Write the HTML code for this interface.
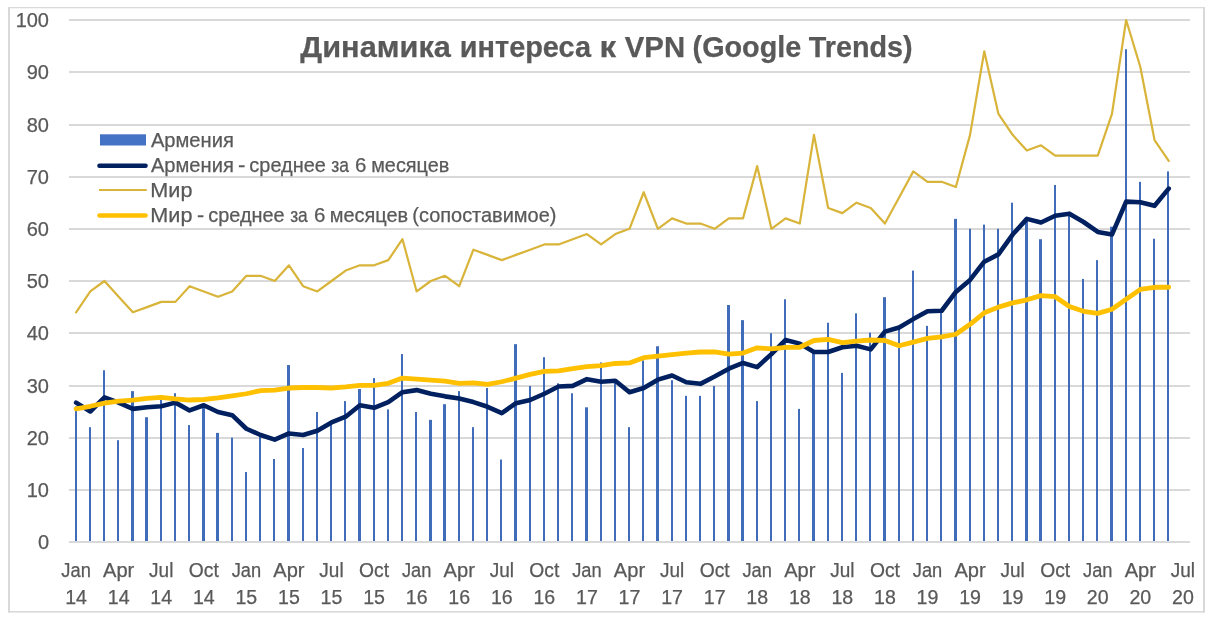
<!DOCTYPE html><html><head><meta charset="utf-8"><style>html,body{margin:0;padding:0;background:#fff;}svg{display:block;will-change:transform;}text{font-family:"Liberation Sans",sans-serif;fill:#595959;stroke:#595959;stroke-width:0.25px;}</style></head><body>
<svg width="1210" height="619" viewBox="0 0 1210 619">
<rect x="8" y="7" width="2" height="605.5" fill="#d9d9d9"/>
<rect x="1203" y="7" width="2" height="605.5" fill="#d9d9d9"/>
<rect x="8" y="7" width="1197" height="1.3" fill="#d9d9d9"/>
<rect x="8" y="611" width="1197" height="1.6" fill="#d9d9d9"/>
<rect x="69.0" y="541" width="1121.0" height="2" fill="#d9d9d9"/>
<rect x="69.0" y="489" width="1121.0" height="2" fill="#d9d9d9"/>
<rect x="69.0" y="437" width="1121.0" height="2" fill="#d9d9d9"/>
<rect x="69.0" y="385" width="1121.0" height="2" fill="#d9d9d9"/>
<rect x="69.0" y="332" width="1121.0" height="2" fill="#d9d9d9"/>
<rect x="69.0" y="280" width="1121.0" height="2" fill="#d9d9d9"/>
<rect x="69.0" y="228" width="1121.0" height="2" fill="#d9d9d9"/>
<rect x="69.0" y="176" width="1121.0" height="2" fill="#d9d9d9"/>
<rect x="69.0" y="124" width="1121.0" height="2" fill="#d9d9d9"/>
<rect x="69.0" y="71" width="1121.0" height="2" fill="#d9d9d9"/>
<rect x="69.0" y="19" width="1121.0" height="2" fill="#d9d9d9"/>
<rect x="75" y="406.28" width="2" height="134.72" fill="#416cb9"/>
<rect x="89" y="427.16" width="2" height="113.84" fill="#416cb9"/>
<rect x="103" y="370.26" width="2" height="170.74" fill="#416cb9"/>
<rect x="117" y="440.21" width="2" height="100.79" fill="#416cb9"/>
<rect x="131" y="391.14" width="3" height="149.86" fill="#416cb9"/>
<rect x="145" y="417.24" width="3" height="123.76" fill="#416cb9"/>
<rect x="160" y="398.45" width="2" height="142.55" fill="#416cb9"/>
<rect x="174" y="393.23" width="2" height="147.77" fill="#416cb9"/>
<rect x="188" y="425.07" width="2" height="115.93" fill="#416cb9"/>
<rect x="202" y="406.28" width="3" height="134.72" fill="#416cb9"/>
<rect x="216" y="432.90" width="3" height="108.10" fill="#416cb9"/>
<rect x="231" y="437.60" width="2" height="103.40" fill="#416cb9"/>
<rect x="245" y="472.05" width="2" height="68.95" fill="#416cb9"/>
<rect x="259" y="434.99" width="2" height="106.01" fill="#416cb9"/>
<rect x="273" y="459.00" width="2" height="82.00" fill="#416cb9"/>
<rect x="287" y="365.04" width="3" height="175.96" fill="#416cb9"/>
<rect x="302" y="448.04" width="2" height="92.96" fill="#416cb9"/>
<rect x="316" y="412.02" width="2" height="128.98" fill="#416cb9"/>
<rect x="330" y="424.55" width="2" height="116.45" fill="#416cb9"/>
<rect x="344" y="401.06" width="2" height="139.94" fill="#416cb9"/>
<rect x="358" y="389.05" width="3" height="151.95" fill="#416cb9"/>
<rect x="373" y="378.09" width="2" height="162.91" fill="#416cb9"/>
<rect x="387" y="409.41" width="2" height="131.59" fill="#416cb9"/>
<rect x="401" y="354.08" width="2" height="186.92" fill="#416cb9"/>
<rect x="415" y="412.02" width="2" height="128.98" fill="#416cb9"/>
<rect x="429" y="419.85" width="3" height="121.15" fill="#416cb9"/>
<rect x="443" y="404.19" width="3" height="136.81" fill="#416cb9"/>
<rect x="458" y="391.14" width="2" height="149.86" fill="#416cb9"/>
<rect x="472" y="427.16" width="2" height="113.84" fill="#416cb9"/>
<rect x="486" y="388.01" width="2" height="152.99" fill="#416cb9"/>
<rect x="500" y="459.52" width="2" height="81.48" fill="#416cb9"/>
<rect x="514" y="344.16" width="3" height="196.84" fill="#416cb9"/>
<rect x="529" y="385.92" width="2" height="155.08" fill="#416cb9"/>
<rect x="543" y="357.21" width="2" height="183.79" fill="#416cb9"/>
<rect x="557" y="383.31" width="2" height="157.69" fill="#416cb9"/>
<rect x="571" y="393.23" width="2" height="147.77" fill="#416cb9"/>
<rect x="585" y="407.32" width="3" height="133.68" fill="#416cb9"/>
<rect x="600" y="362.43" width="2" height="178.57" fill="#416cb9"/>
<rect x="614" y="381.22" width="2" height="159.78" fill="#416cb9"/>
<rect x="628" y="427.16" width="2" height="113.84" fill="#416cb9"/>
<rect x="642" y="360.34" width="2" height="180.66" fill="#416cb9"/>
<rect x="656" y="346.25" width="3" height="194.75" fill="#416cb9"/>
<rect x="671" y="380.18" width="2" height="160.82" fill="#416cb9"/>
<rect x="685" y="395.84" width="2" height="145.16" fill="#416cb9"/>
<rect x="699" y="395.84" width="2" height="145.16" fill="#416cb9"/>
<rect x="713" y="385.92" width="2" height="155.08" fill="#416cb9"/>
<rect x="727" y="305.01" width="3" height="235.99" fill="#416cb9"/>
<rect x="741" y="320.15" width="3" height="220.85" fill="#416cb9"/>
<rect x="756" y="401.06" width="2" height="139.94" fill="#416cb9"/>
<rect x="770" y="333.20" width="2" height="207.80" fill="#416cb9"/>
<rect x="784" y="299.27" width="2" height="241.73" fill="#416cb9"/>
<rect x="798" y="408.89" width="2" height="132.11" fill="#416cb9"/>
<rect x="812" y="351.47" width="3" height="189.53" fill="#416cb9"/>
<rect x="827" y="322.76" width="2" height="218.24" fill="#416cb9"/>
<rect x="841" y="372.87" width="2" height="168.13" fill="#416cb9"/>
<rect x="855" y="313.36" width="2" height="227.64" fill="#416cb9"/>
<rect x="869" y="332.68" width="2" height="208.32" fill="#416cb9"/>
<rect x="883" y="297.18" width="3" height="243.82" fill="#416cb9"/>
<rect x="898" y="327.98" width="2" height="213.02" fill="#416cb9"/>
<rect x="912" y="270.56" width="2" height="270.44" fill="#416cb9"/>
<rect x="926" y="325.89" width="2" height="215.11" fill="#416cb9"/>
<rect x="940" y="312.32" width="2" height="228.68" fill="#416cb9"/>
<rect x="954" y="218.88" width="3" height="322.12" fill="#416cb9"/>
<rect x="969" y="228.80" width="2" height="312.20" fill="#416cb9"/>
<rect x="983" y="224.62" width="2" height="316.38" fill="#416cb9"/>
<rect x="997" y="228.80" width="2" height="312.20" fill="#416cb9"/>
<rect x="1011" y="202.70" width="2" height="338.30" fill="#416cb9"/>
<rect x="1025" y="220.97" width="3" height="320.03" fill="#416cb9"/>
<rect x="1039" y="239.24" width="3" height="301.76" fill="#416cb9"/>
<rect x="1054" y="184.95" width="2" height="356.05" fill="#416cb9"/>
<rect x="1068" y="215.75" width="2" height="325.25" fill="#416cb9"/>
<rect x="1082" y="278.91" width="2" height="262.09" fill="#416cb9"/>
<rect x="1096" y="260.12" width="2" height="280.88" fill="#416cb9"/>
<rect x="1110" y="226.71" width="3" height="314.29" fill="#416cb9"/>
<rect x="1125" y="49.23" width="2" height="491.77" fill="#416cb9"/>
<rect x="1139" y="181.82" width="2" height="359.18" fill="#416cb9"/>
<rect x="1153" y="238.72" width="2" height="302.28" fill="#416cb9"/>
<rect x="1167" y="171.38" width="2" height="369.62" fill="#416cb9"/>
<polyline points="76.09,402.63 90.28,411.50 104.47,397.41 118.66,402.63 132.85,408.89 147.04,407.32 161.23,406.28 175.42,402.63 189.61,410.46 203.80,405.24 217.99,412.02 232.18,415.15 246.37,428.73 260.56,434.99 274.75,439.69 288.94,433.42 303.13,434.99 317.32,430.81 331.51,422.46 345.70,416.72 359.89,405.24 374.08,407.85 388.27,402.10 402.46,392.19 416.65,390.10 430.84,393.75 445.03,396.36 459.22,398.45 473.41,402.10 487.60,406.80 501.79,413.07 515.98,403.15 530.17,400.02 544.36,393.75 558.55,386.44 572.74,385.92 586.93,379.14 601.12,381.75 615.31,380.70 629.50,392.19 643.69,388.01 657.88,379.66 672.07,375.48 686.26,382.27 700.45,383.83 714.64,376.53 728.83,368.70 743.02,362.95 757.21,367.13 771.40,354.08 785.59,339.99 799.78,343.64 813.97,351.99 828.16,351.99 842.35,347.29 856.54,345.73 870.73,349.38 884.92,331.63 899.11,327.46 913.30,319.11 927.49,311.28 941.68,310.75 955.87,291.96 970.06,279.96 984.25,261.69 998.44,254.38 1012.63,234.54 1026.82,218.88 1041.01,222.54 1055.20,215.75 1069.39,213.66 1083.58,222.01 1097.77,231.93 1111.96,234.54 1126.15,201.66 1140.34,202.18 1154.53,205.83 1168.72,188.61" fill="none" stroke="#002060" stroke-width="4.6" stroke-linejoin="round" stroke-linecap="round"/>
<polyline points="76.09,312.32 90.28,291.44 104.47,281.00 118.66,296.66 132.85,312.32 147.04,307.10 161.23,301.88 175.42,301.88 189.61,286.22 203.80,291.44 217.99,296.66 232.18,291.44 246.37,275.78 260.56,275.78 274.75,281.00 288.94,265.34 303.13,286.22 317.32,291.44 331.51,281.00 345.70,270.56 359.89,265.34 374.08,265.34 388.27,260.12 402.46,239.24 416.65,291.44 430.84,281.00 445.03,275.78 459.22,286.22 473.41,249.68 487.60,254.90 501.79,260.12 515.98,254.90 530.17,249.68 544.36,244.46 558.55,244.46 572.74,239.24 586.93,234.02 601.12,244.46 615.31,234.02 629.50,228.80 643.69,192.26 657.88,228.80 672.07,218.36 686.26,223.58 700.45,223.58 714.64,228.80 728.83,218.36 743.02,218.36 757.21,166.16 771.40,228.80 785.59,218.36 799.78,223.58 813.97,134.84 828.16,207.92 842.35,213.14 856.54,202.70 870.73,207.92 884.92,223.58 899.11,197.48 913.30,171.38 927.49,181.82 941.68,181.82 955.87,187.04 970.06,134.84 984.25,51.32 998.44,113.96 1012.63,134.84 1026.82,150.50 1041.01,145.28 1055.20,155.72 1069.39,155.72 1083.58,155.72 1097.77,155.72 1111.96,113.96 1126.15,20.00 1140.34,66.98 1154.53,140.06 1168.72,160.94" fill="none" stroke="#d8b43a" stroke-width="2.2" stroke-linejoin="round" stroke-linecap="round"/>
<polyline points="76.09,408.89 90.28,406.28 104.47,403.15 118.66,401.06 132.85,400.02 147.04,398.45 161.23,397.41 175.42,398.97 189.61,400.02 203.80,399.49 217.99,397.93 232.18,395.84 246.37,393.75 260.56,390.62 274.75,390.10 288.94,388.01 303.13,387.49 317.32,387.49 331.51,388.01 345.70,386.97 359.89,385.40 374.08,385.40 388.27,383.31 402.46,378.09 416.65,379.14 430.84,380.18 445.03,381.22 459.22,383.31 473.41,382.79 487.60,384.36 501.79,381.75 515.98,378.09 530.17,374.44 544.36,371.31 558.55,370.78 572.74,368.70 586.93,366.61 601.12,365.56 615.31,363.48 629.50,362.95 643.69,357.73 657.88,356.17 672.07,354.60 686.26,353.04 700.45,351.99 714.64,351.99 728.83,354.08 743.02,353.04 757.21,347.82 771.40,348.86 785.59,347.29 799.78,347.29 813.97,340.51 828.16,339.46 842.35,342.60 856.54,341.03 870.73,339.99 884.92,340.51 899.11,345.73 913.30,342.07 927.49,338.42 941.68,336.85 955.87,334.24 970.06,324.33 984.25,312.84 998.44,307.10 1012.63,302.92 1026.82,299.79 1041.01,295.62 1055.20,296.66 1069.39,306.58 1083.58,311.28 1097.77,313.36 1111.96,309.19 1126.15,299.27 1140.34,289.35 1154.53,287.26 1168.72,287.26" fill="none" stroke="#ffc000" stroke-width="4.8" stroke-linejoin="round" stroke-linecap="round"/>
<text x="49" y="549.00" font-size="20" text-anchor="end">0</text>
<text x="49" y="497.00" font-size="20" text-anchor="end">10</text>
<text x="49" y="445.00" font-size="20" text-anchor="end">20</text>
<text x="49" y="393.00" font-size="20" text-anchor="end">30</text>
<text x="49" y="340.00" font-size="20" text-anchor="end">40</text>
<text x="49" y="288.00" font-size="20" text-anchor="end">50</text>
<text x="49" y="236.00" font-size="20" text-anchor="end">60</text>
<text x="49" y="184.00" font-size="20" text-anchor="end">70</text>
<text x="49" y="132.00" font-size="20" text-anchor="end">80</text>
<text x="49" y="79.00" font-size="20" text-anchor="end">90</text>
<text x="49" y="27.00" font-size="20" text-anchor="end">100</text>
<text x="76.09" y="576.8" font-size="19.6" text-anchor="middle" textLength="29.49" lengthAdjust="spacingAndGlyphs">Jan</text>
<text x="76.09" y="603.9" font-size="19.6" text-anchor="middle">14</text>
<text x="118.66" y="576.8" font-size="19.6" text-anchor="middle" textLength="31.26" lengthAdjust="spacingAndGlyphs">Apr</text>
<text x="118.66" y="603.9" font-size="19.6" text-anchor="middle">14</text>
<text x="161.23" y="576.8" font-size="19.6" text-anchor="middle" textLength="24.32" lengthAdjust="spacingAndGlyphs">Jul</text>
<text x="161.23" y="603.9" font-size="19.6" text-anchor="middle">14</text>
<text x="203.80" y="576.8" font-size="19.6" text-anchor="middle" textLength="30.02" lengthAdjust="spacingAndGlyphs">Oct</text>
<text x="203.80" y="603.9" font-size="19.6" text-anchor="middle">14</text>
<text x="246.37" y="576.8" font-size="19.6" text-anchor="middle" textLength="29.49" lengthAdjust="spacingAndGlyphs">Jan</text>
<text x="246.37" y="603.9" font-size="19.6" text-anchor="middle">15</text>
<text x="288.94" y="576.8" font-size="19.6" text-anchor="middle" textLength="31.26" lengthAdjust="spacingAndGlyphs">Apr</text>
<text x="288.94" y="603.9" font-size="19.6" text-anchor="middle">15</text>
<text x="331.51" y="576.8" font-size="19.6" text-anchor="middle" textLength="24.32" lengthAdjust="spacingAndGlyphs">Jul</text>
<text x="331.51" y="603.9" font-size="19.6" text-anchor="middle">15</text>
<text x="374.08" y="576.8" font-size="19.6" text-anchor="middle" textLength="30.02" lengthAdjust="spacingAndGlyphs">Oct</text>
<text x="374.08" y="603.9" font-size="19.6" text-anchor="middle">15</text>
<text x="416.65" y="576.8" font-size="19.6" text-anchor="middle" textLength="29.49" lengthAdjust="spacingAndGlyphs">Jan</text>
<text x="416.65" y="603.9" font-size="19.6" text-anchor="middle">16</text>
<text x="459.22" y="576.8" font-size="19.6" text-anchor="middle" textLength="31.26" lengthAdjust="spacingAndGlyphs">Apr</text>
<text x="459.22" y="603.9" font-size="19.6" text-anchor="middle">16</text>
<text x="501.79" y="576.8" font-size="19.6" text-anchor="middle" textLength="24.32" lengthAdjust="spacingAndGlyphs">Jul</text>
<text x="501.79" y="603.9" font-size="19.6" text-anchor="middle">16</text>
<text x="544.36" y="576.8" font-size="19.6" text-anchor="middle" textLength="30.02" lengthAdjust="spacingAndGlyphs">Oct</text>
<text x="544.36" y="603.9" font-size="19.6" text-anchor="middle">16</text>
<text x="586.93" y="576.8" font-size="19.6" text-anchor="middle" textLength="29.49" lengthAdjust="spacingAndGlyphs">Jan</text>
<text x="586.93" y="603.9" font-size="19.6" text-anchor="middle">17</text>
<text x="629.50" y="576.8" font-size="19.6" text-anchor="middle" textLength="31.26" lengthAdjust="spacingAndGlyphs">Apr</text>
<text x="629.50" y="603.9" font-size="19.6" text-anchor="middle">17</text>
<text x="672.07" y="576.8" font-size="19.6" text-anchor="middle" textLength="24.32" lengthAdjust="spacingAndGlyphs">Jul</text>
<text x="672.07" y="603.9" font-size="19.6" text-anchor="middle">17</text>
<text x="714.64" y="576.8" font-size="19.6" text-anchor="middle" textLength="30.02" lengthAdjust="spacingAndGlyphs">Oct</text>
<text x="714.64" y="603.9" font-size="19.6" text-anchor="middle">17</text>
<text x="757.21" y="576.8" font-size="19.6" text-anchor="middle" textLength="29.49" lengthAdjust="spacingAndGlyphs">Jan</text>
<text x="757.21" y="603.9" font-size="19.6" text-anchor="middle">18</text>
<text x="799.78" y="576.8" font-size="19.6" text-anchor="middle" textLength="31.26" lengthAdjust="spacingAndGlyphs">Apr</text>
<text x="799.78" y="603.9" font-size="19.6" text-anchor="middle">18</text>
<text x="842.35" y="576.8" font-size="19.6" text-anchor="middle" textLength="24.32" lengthAdjust="spacingAndGlyphs">Jul</text>
<text x="842.35" y="603.9" font-size="19.6" text-anchor="middle">18</text>
<text x="884.92" y="576.8" font-size="19.6" text-anchor="middle" textLength="30.02" lengthAdjust="spacingAndGlyphs">Oct</text>
<text x="884.92" y="603.9" font-size="19.6" text-anchor="middle">18</text>
<text x="927.49" y="576.8" font-size="19.6" text-anchor="middle" textLength="29.49" lengthAdjust="spacingAndGlyphs">Jan</text>
<text x="927.49" y="603.9" font-size="19.6" text-anchor="middle">19</text>
<text x="970.06" y="576.8" font-size="19.6" text-anchor="middle" textLength="31.26" lengthAdjust="spacingAndGlyphs">Apr</text>
<text x="970.06" y="603.9" font-size="19.6" text-anchor="middle">19</text>
<text x="1012.63" y="576.8" font-size="19.6" text-anchor="middle" textLength="24.32" lengthAdjust="spacingAndGlyphs">Jul</text>
<text x="1012.63" y="603.9" font-size="19.6" text-anchor="middle">19</text>
<text x="1055.20" y="576.8" font-size="19.6" text-anchor="middle" textLength="30.02" lengthAdjust="spacingAndGlyphs">Oct</text>
<text x="1055.20" y="603.9" font-size="19.6" text-anchor="middle">19</text>
<text x="1097.77" y="576.8" font-size="19.6" text-anchor="middle" textLength="29.49" lengthAdjust="spacingAndGlyphs">Jan</text>
<text x="1097.77" y="603.9" font-size="19.6" text-anchor="middle">20</text>
<text x="1140.34" y="576.8" font-size="19.6" text-anchor="middle" textLength="31.26" lengthAdjust="spacingAndGlyphs">Apr</text>
<text x="1140.34" y="603.9" font-size="19.6" text-anchor="middle">20</text>
<text x="1182.91" y="576.8" font-size="19.6" text-anchor="middle" textLength="24.32" lengthAdjust="spacingAndGlyphs">Jul</text>
<text x="1182.91" y="603.9" font-size="19.6" text-anchor="middle">20</text>
<text x="300.34" y="56.5" font-size="29.8" font-weight="bold" textLength="150.57" lengthAdjust="spacingAndGlyphs">Динамика</text>
<text x="459.76" y="56.5" font-size="29.8" font-weight="bold" textLength="131.32" lengthAdjust="spacingAndGlyphs">интереса</text>
<text x="599.57" y="56.5" font-size="29.8" font-weight="bold" textLength="16.62" lengthAdjust="spacingAndGlyphs">к</text>
<text x="624.75" y="56.5" font-size="29.8" font-weight="bold" textLength="60.35" lengthAdjust="spacingAndGlyphs">VPN</text>
<text x="692.55" y="56.5" font-size="29.8" font-weight="bold" textLength="108.67" lengthAdjust="spacingAndGlyphs">(Google</text>
<text x="808.76" y="56.5" font-size="29.8" font-weight="bold" textLength="103.81" lengthAdjust="spacingAndGlyphs">Trends)</text>
<text x="150.90" y="146.8" font-size="19.3" textLength="82.90" lengthAdjust="spacingAndGlyphs">Армения</text>
<text x="150.90" y="171.7" font-size="19.3" textLength="82.90" lengthAdjust="spacingAndGlyphs">Армения</text>
<text x="238.03" y="171.7" font-size="19.3" textLength="7.44" lengthAdjust="spacingAndGlyphs">-</text>
<text x="249.32" y="171.7" font-size="19.3" textLength="76.57" lengthAdjust="spacingAndGlyphs">среднее</text>
<text x="331.25" y="171.7" font-size="19.3" textLength="17.72" lengthAdjust="spacingAndGlyphs">за</text>
<text x="355.14" y="171.7" font-size="19.3" textLength="11.41" lengthAdjust="spacingAndGlyphs">6</text>
<text x="371.21" y="171.7" font-size="19.3" textLength="78.07" lengthAdjust="spacingAndGlyphs">месяцев</text>
<text x="150.32" y="196.75" font-size="19.3" textLength="42.09" lengthAdjust="spacingAndGlyphs">Мир</text>
<text x="150.32" y="221.6" font-size="19.3" textLength="42.09" lengthAdjust="spacingAndGlyphs">Мир</text>
<text x="197.06" y="221.6" font-size="19.3" textLength="7.17" lengthAdjust="spacingAndGlyphs">-</text>
<text x="208.33" y="221.6" font-size="19.3" textLength="76.26" lengthAdjust="spacingAndGlyphs">среднее</text>
<text x="290.15" y="221.6" font-size="19.3" textLength="17.62" lengthAdjust="spacingAndGlyphs">за</text>
<text x="314.04" y="221.6" font-size="19.3" textLength="11.41" lengthAdjust="spacingAndGlyphs">6</text>
<text x="329.71" y="221.6" font-size="19.3" textLength="78.48" lengthAdjust="spacingAndGlyphs">месяцев</text>
<text x="412.31" y="221.6" font-size="19.3" textLength="144.12" lengthAdjust="spacingAndGlyphs">(сопоставимое)</text>
<rect x="100" y="134.3" width="46" height="11.2" fill="#4472c4"/>
<line x1="99.5" y1="165.7" x2="145.5" y2="165.7" stroke="#002060" stroke-width="4.6" stroke-linecap="round"/>
<line x1="99" y1="190" x2="146.8" y2="190" stroke="#d8b43a" stroke-width="2.2"/>
<line x1="99.5" y1="215.5" x2="145.5" y2="215.5" stroke="#ffc000" stroke-width="4.6" stroke-linecap="round"/>
</svg></body></html>
